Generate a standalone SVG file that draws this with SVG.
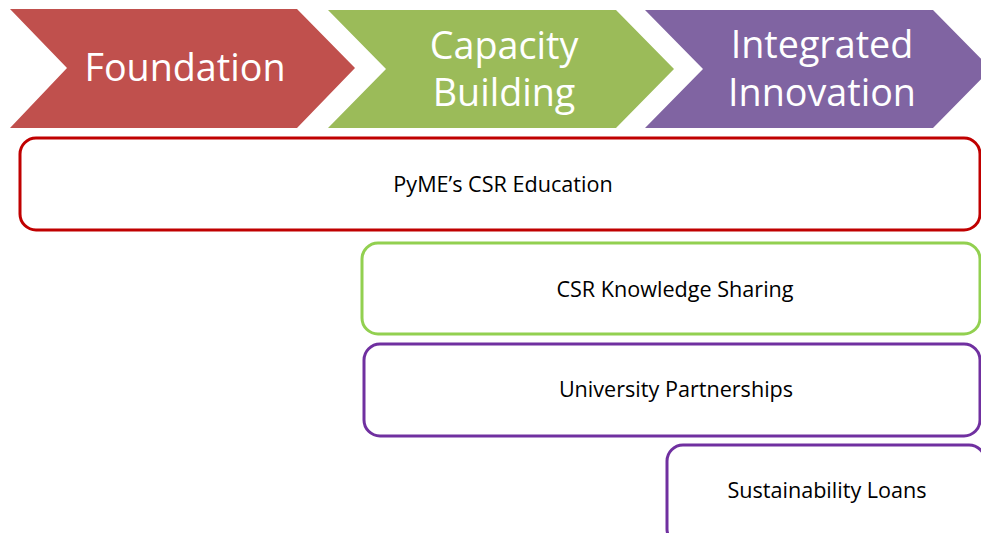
<svg xmlns="http://www.w3.org/2000/svg" width="981" height="533" viewBox="0 0 981 533">
<style>
.hdr{fill:#fff;font-family:"Open Sans","Liberation Sans",sans-serif;font-size:37.7px;text-anchor:middle}
.lbl{fill:#000;font-family:"Open Sans","Liberation Sans",sans-serif;font-size:21.6px;text-anchor:middle}
.box{fill:#fff;stroke-width:3}
</style>
<rect width="981" height="533" fill="#fff"/>
<g id="foundation">
<polygon points="10,9 297,9 355,68 297,128 10,128 67,68" fill="#C0504D"/>
<text class="hdr" x="185" y="81">Foundation</text>
</g>
<g id="capacity">
<polygon points="328,10 616,10 674,69 616,128 328,128 386,69" fill="#9BBB59"/>
<text class="hdr" x="504" y="59">Capacity</text>
<text class="hdr" x="504" y="106">Building</text>
</g>
<g id="innovation">
<polygon points="645,10 933,10 991,69 933,128 645,128 703,69" fill="#8064A2"/>
<text class="hdr" x="822" y="58">Integrated</text>
<text class="hdr" x="822" y="106">Innovation</text>
</g>
<g id="education">
<rect class="box" x="20" y="138" width="960" height="92" rx="16" stroke="#C00000"/>
<text class="lbl" x="503" y="192">PyME’s CSR Education</text>
</g>
<g id="knowledge">
<rect class="box" x="362" y="243" width="618" height="91" rx="16" stroke="#92D050"/>
<text class="lbl" x="675" y="297">CSR Knowledge Sharing</text>
</g>
<g id="university">
<rect class="box" x="364" y="344" width="616" height="92" rx="16" stroke="#7030A0"/>
<text class="lbl" x="676" y="397">University Partnerships</text>
</g>
<g id="loans">
<rect class="box" x="667" y="445" width="318" height="100" rx="16" stroke="#7030A0"/>
<text class="lbl" x="827" y="498">Sustainability Loans</text>
</g>
<g id="connectors"></g>
</svg>
